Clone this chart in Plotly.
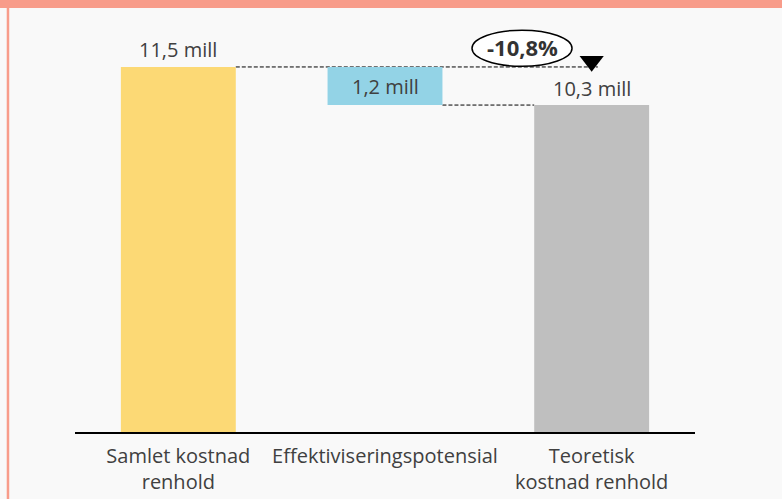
import plotly.graph_objects as go

categories = ["Samlet kostnad<br>renhold", "Effektiviseringspotensial", "Teoretisk<br>kostnad renhold"]
start_total = 11.5
reduction = 1.2
end_total = 10.3
value_labels = ["11,5 mill", "1,2 mill", "10,3 mill"]
pct_label = "-10,8%"

bar_heights = [start_total, reduction, end_total]
bar_bases = [0, start_total - reduction, 0]
colors = ["#FCD975", "#93D3E6", "#BFBFBF"]

fig = go.Figure()
fig.add_trace(go.Bar(
    x=categories, y=bar_heights, base=bar_bases,
    marker=dict(color=colors, line=dict(width=0)),
    width=0.556, hoverinfo="skip",
))

# downward triangle
fig.add_trace(go.Scatter(
    x=[categories[2]], y=[11.68], mode="markers",
    marker=dict(symbol="triangle-down", size=21, color="black"),
    hoverinfo="skip",
))

font = dict(family="Open Sans, sans-serif", size=20, color="#404040")
hw = 0.278
ann = [
    dict(x=0, y=start_total, text=value_labels[0], yanchor="bottom", yshift=2),
    dict(x=1, y=start_total - reduction / 2, text=value_labels[1], yanchor="middle"),
    dict(x=2, y=end_total, text=value_labels[2], yanchor="bottom", yshift=1),
]
for a in ann:
    fig.add_annotation(xref="x", yref="y", showarrow=False, font=font, **a)

fig.add_annotation(x=1.663, y=12.12, xref="x", yref="y", text="<b>" + pct_label + "</b>",
                   showarrow=False, font=dict(family="Open Sans, sans-serif", size=22, color="#333333"))

dash = "4px,2px"
shapes = [
    # dashed connectors
    dict(type="line", xref="x", yref="y", x0=hw, x1=2.03, y0=start_total, y1=start_total,
         line=dict(color="black", width=1, dash=dash), layer="below"),
    dict(type="line", xref="x", yref="y", x0=1 + hw, x1=2 - hw, y0=end_total, y1=end_total,
         line=dict(color="black", width=1, dash=dash), layer="below"),
    # ellipse
    dict(type="circle", xref="x", yref="y", x0=1.421, x1=1.905, y0=11.52, y1=12.66,
         line=dict(color="black", width=1.5), fillcolor="white", layer="below"),
    # top band
    dict(type="rect", xref="paper", yref="paper", x0=-0.125, x1=1.145, y0=1.0119, y1=1.04,
         line=dict(width=0), fillcolor="#F89C8A"),
    # left border
    dict(type="line", xref="paper", yref="paper", x0=-0.1081, x1=-0.1081, y0=-0.17, y1=1.0119,
         line=dict(color="#F89C8A", width=2.5)),
]
fig.update_layout(shapes=shapes)

fig.update_layout(
    width=782, height=499,
    margin=dict(l=75, r=87, t=13, b=67, autoexpand=False),
    paper_bgcolor="#F9F9F9", plot_bgcolor="#F9F9F9",
    showlegend=False, bargap=0.444,
    xaxis=dict(showline=True, linecolor="black", linewidth=2, ticks="", showgrid=False,
               tickfont=font, fixedrange=True, range=[-0.5, 2.5], ticklabelstandoff=5,
               automargin=False),
    yaxis=dict(range=[0, 13.2], visible=False, showgrid=False, zeroline=False, fixedrange=True,
               automargin=False),
)

fig.write_html("out.html", config={"displayModeBar": False},
               post_script="document.body.style.margin='0';document.body.style.overflow='hidden';")
